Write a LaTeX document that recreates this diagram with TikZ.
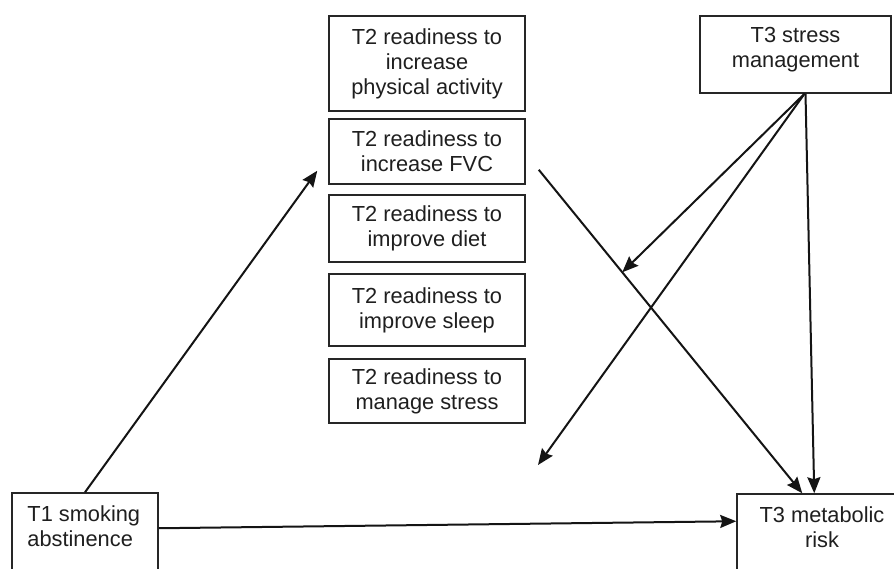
\documentclass[tikz,border=0pt]{standalone}
\usepackage{fontspec}
\setmainfont{Liberation Sans}
\usetikzlibrary{arrows.meta,fit}
\begin{document}
\begin{tikzpicture}[x=1pt,y=-1pt,
  box/.style={draw=black!85, line width=1.5pt, rectangle, inner sep=0pt, align=center, text=black!88, font=\fontsize{21.8}{25}\selectfont},
  txt/.style={inner sep=0pt, text=black!88, font=\fontsize{21.8}{25}\selectfont},
  conn/.style={draw=black!92, line width=2pt},
  arr/.style={conn, -{Stealth[length=16pt,width=13pt,inset=2pt]}}]
\useasboundingbox (0,0) rectangle (894,569);
\clip (0,0) rectangle (894,569);
\fill[white] (0,0) rectangle (894,569);
% mediator boxes
\node[box, minimum width=196pt, minimum height=95pt] (pa) at (427,63.5) {T2 readiness to\\increase\\physical activity};
\node[box, minimum width=196pt, minimum height=65pt] (fvc) at (427,151.5) {T2 readiness to\\increase FVC};
\node[box, minimum width=196pt, minimum height=67pt] (diet) at (427,228.5) {T2 readiness to\\improve diet};
\node[box, minimum width=196pt, minimum height=72pt] (sleep) at (427,310) {T2 readiness to\\improve sleep};
\node[box, minimum width=196pt, minimum height=64pt] (mstress) at (427,391) {T2 readiness to\\manage stress};
% moderator
\node[box, minimum width=191pt, minimum height=77pt] (stress) at (795.5,54.5) {};
\node[txt, anchor=north, align=center] (stresst) at ([yshift=-12pt]stress.north) {T3 stress\\management};
% predictor and outcome (cut by the picture edge)
\node[box, fit={(12,493) (158,620)}] (t1) {};
\node[txt, anchor=north west, align=left] (t1t) at ([xshift=16pt,yshift=-13pt]t1.north west) {T1 smoking\\abstinence};
\node[box, fit={(737,494) (910,620)}] (met) {};
\node[txt, anchor=north, align=center] (mett) at (822,507) {T3 metabolic\\risk};
% connectors
\draw[arr] (t1.north) -- ([xshift=-11pt,yshift=14pt]fvc.south west);
\draw[arr] ([xshift=13pt,yshift=15pt]fvc.south east) -- coordinate[pos=0.317] (mid) ([xshift=66pt]met.north west);
\draw[arr] ([yshift=-36pt]t1.north east) -- ([yshift=-28pt]met.north west);
\coordinate (sm) at ([xshift=9pt]stress.south);
\coordinate (mod) at (538,465);
\draw[arr] (sm) -- (mid);
\draw[arr] (sm) -- (mod);
\draw[arr] ([xshift=10pt]stress.south) -- ([xshift=78pt]met.north west);
\end{tikzpicture}
\end{document}
